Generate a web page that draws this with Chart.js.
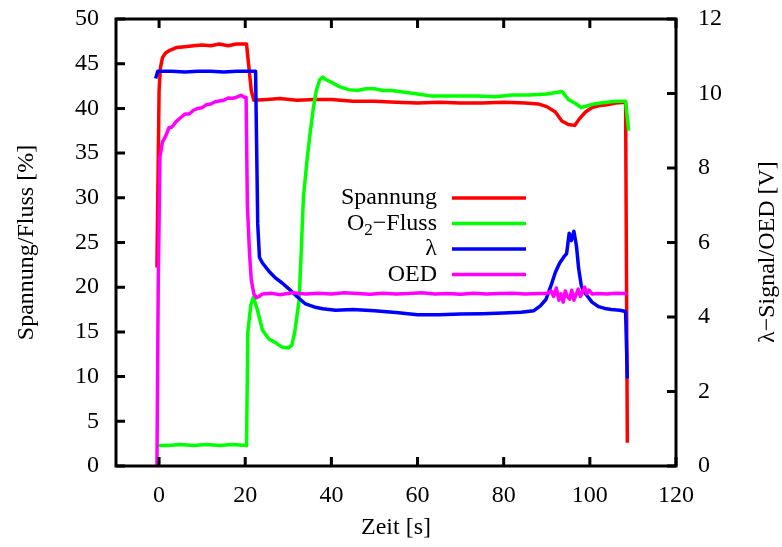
<!DOCTYPE html>
<html>
<head>
<meta charset="utf-8">
<title>Spannung / Fluss</title>
<script src="https://cdn.jsdelivr.net/npm/chart.js@4.4.1/dist/chart.umd.min.js"></script>
<style>
    body { margin: 0; background: #fff; font-family: "Liberation Serif", serif; }
    #wrap { width: 782px; height: 547px; position: relative; }
</style>
</head>
<body>
<div id="wrap"><canvas id="myChart"></canvas></div>
<script>
// tick labels
const xTicks = [0, 20, 40, 60, 80, 100, 120];
const yLeftTicks = [0, 5, 10, 15, 20, 25, 30, 35, 40, 45, 50];
const yRightTicks = [0, 2, 4, 6, 8, 10, 12];

// Spannung [%] (left axis)
const spannungTime = [-0.5, -0.3, 0, 0.3, 0.8, 1.5, 2.5, 4, 6, 8, 10, 12, 14, 16, 18, 20.3, 21.4, 22, 25, 28, 32, 36, 40, 45, 50, 55, 60, 65, 70, 75, 80, 85, 88, 90, 92, 93.5, 95, 96.5, 97.5, 99, 100.5, 102, 104, 106, 108.3, 108.7];
const spannung = [22.2, 30, 42, 44.5, 45.7, 46.2, 46.5, 46.8, 46.9, 47.0, 47.1, 47.0, 47.2, 47.0, 47.2, 47.2, 42, 40.9, 41.0, 41.1, 40.9, 41.0, 41.0, 40.8, 40.8, 40.7, 40.6, 40.7, 40.6, 40.6, 40.7, 40.6, 40.5, 40.2, 39.6, 38.6, 38.2, 38.1, 38.8, 39.6, 40.1, 40.3, 40.4, 40.6, 40.7, 2.6];

// O2-Fluss [%] (left axis)
const flussTime = [-0.3, 2, 5, 8, 11, 14, 17, 20.3, 20.6, 21.3, 21.9, 22.8, 24, 25.5, 27, 28.5, 30, 30.8, 31.5, 32.5, 33, 33.5, 34.3, 35, 35.8, 36.5, 37.3, 38, 38.8, 40.5, 42, 44, 46, 48, 50, 52, 54, 57, 60, 63, 66, 70, 74, 78, 82, 86, 90, 92.5, 93.5, 95, 96.5, 98, 99.5, 101, 102.5, 104, 106, 108.3, 109];
const fluss = [2.3, 2.3, 2.4, 2.3, 2.4, 2.3, 2.4, 2.3, 15, 18, 18.9, 17.5, 15.2, 14.2, 13.8, 13.3, 13.2, 13.5, 15, 18.5, 24, 30, 34, 37, 40, 42, 43.2, 43.5, 43.2, 42.8, 42.4, 42.1, 42.0, 42.2, 42.2, 42.0, 42.0, 41.8, 41.6, 41.4, 41.4, 41.4, 41.4, 41.3, 41.5, 41.5, 41.6, 41.8, 41.9, 41.0, 40.6, 40.1, 40.3, 40.5, 40.6, 40.7, 40.8, 40.8, 37.5];

// lambda signal [V] (right axis)
const lambdaTime = [-0.8, -0.3, 0, 3, 6, 9, 12, 15, 18, 21, 22.4, 22.9, 23.3, 24, 25.5, 27, 28.5, 30, 32, 34, 36, 38, 41, 45, 50, 55, 60, 65, 70, 75, 80, 84, 87, 88.5, 89.8, 91, 92, 93, 94, 94.6, 95.2, 95.7, 96.3, 96.9, 97.4, 98, 98.6, 99.5, 100.5, 102, 103.5, 105, 107, 108.3, 108.7];
const lambda = [10.4, 10.6, 10.6, 10.6, 10.58, 10.6, 10.6, 10.58, 10.6, 10.6, 10.6, 6.5, 5.6, 5.45, 5.23, 5.05, 4.92, 4.77, 4.55, 4.35, 4.27, 4.22, 4.18, 4.2, 4.17, 4.12, 4.06, 4.06, 4.08, 4.09, 4.11, 4.13, 4.17, 4.3, 4.47, 4.85, 5.2, 5.45, 5.62, 5.7, 6.25, 6.05, 6.3, 5.9, 5.3, 4.85, 4.68, 4.55, 4.4, 4.28, 4.23, 4.2, 4.18, 4.15, 2.35];

// OED [V] (right axis)
const oedTime = [-0.5, -0.2, 0.2, 0.8, 1.5, 2.3, 3, 4, 5, 6, 7, 8, 9, 10, 11, 12, 13, 14, 15, 16, 17, 18, 19, 19.8, 20.2, 20.5, 21, 21.4, 22, 22.6, 23.2, 24, 26, 28, 31, 34, 37, 40, 43, 46, 49, 52, 55, 58, 61, 64, 67, 70, 73, 76, 79, 82, 85, 88, 90, 91, 91.6, 92.2, 92.8, 93.3, 93.8, 94.3, 94.8, 95.3, 95.8, 96.3, 96.8, 97.3, 97.8, 98.3, 98.8, 99.3, 99.8, 100.5, 102, 104, 106, 108.7];
const oed = [0, 4.8, 8.3, 8.7, 8.85, 9.08, 9.1, 9.25, 9.35, 9.45, 9.45, 9.55, 9.6, 9.62, 9.7, 9.72, 9.78, 9.8, 9.82, 9.88, 9.87, 9.9, 9.95, 9.9, 9.9, 7.0, 5.7, 5.0, 4.62, 4.52, 4.55, 4.62, 4.64, 4.6, 4.65, 4.62, 4.64, 4.62, 4.65, 4.63, 4.61, 4.64, 4.62, 4.63, 4.65, 4.62, 4.63, 4.61, 4.64, 4.62, 4.63, 4.64, 4.62, 4.63, 4.63, 4.7, 4.55, 4.78, 4.45, 4.62, 4.4, 4.7, 4.55, 4.48, 4.72, 4.45, 4.6, 4.75, 4.55, 4.68, 4.8, 4.62, 4.72, 4.62, 4.63, 4.62, 4.64, 4.63];

const legendItems = [
    { label: 'Spannung', color: '#ff0000' },
    { label: 'O2-Fluss', color: '#00ff00' },
    { label: 'λ', color: '#0000ff' },
    { label: 'OED', color: '#ff00ff' }
];

const FONT = '"Liberation Serif"';

function points(t, v) {
    return t.map((x, i) => ({ x: x, y: v[i] }));
}

// fixed axis sizes, no extra label padding, so the frame sits where gnuplot put it
function fitAxis(size) {
    return s => {
        if (s.isHorizontal()) s.height = size; else s.width = size;
        s.paddingTop = 0;
        s.paddingBottom = 0;
        s.paddingLeft = 0;
        s.paddingRight = 0;
    };
}

// border, inward ticks, axis titles and the legend, gnuplot style
const frame = {
    id: 'frame',
    afterDatasetsDraw(chart) {
        const ctx = chart.ctx;
        const a = chart.chartArea;
        const sx = chart.scales.x, yl = chart.scales.y, yr = chart.scales.y2;
        const tl = 9;
        ctx.save();
        ctx.strokeStyle = '#000';
        ctx.lineWidth = 3;
        ctx.beginPath();
        xTicks.forEach(v => {
            const px = sx.getPixelForValue(v);
            ctx.moveTo(px, a.bottom); ctx.lineTo(px, a.bottom - tl);
            ctx.moveTo(px, a.top); ctx.lineTo(px, a.top + tl);
        });
        yLeftTicks.forEach(v => {
            const py = yl.getPixelForValue(v);
            ctx.moveTo(a.left, py); ctx.lineTo(a.left + tl, py);
        });
        yRightTicks.forEach(v => {
            const py = yr.getPixelForValue(v);
            ctx.moveTo(a.right, py); ctx.lineTo(a.right - tl, py);
        });
        ctx.stroke();
        ctx.strokeRect(a.left, a.top, a.right - a.left, a.bottom - a.top);

        ctx.fillStyle = '#000';
        ctx.font = '24px ' + FONT;
        ctx.textBaseline = 'middle';

        ctx.textAlign = 'center';
        ctx.fillText('Zeit [s]', (a.left + a.right) / 2, 528);

        ctx.save();
        ctx.translate(27, (a.top + a.bottom) / 2);
        ctx.rotate(-Math.PI / 2);
        ctx.fillText('Spannung/Fluss [%]', 0, 0);
        ctx.restore();

        ctx.save();
        ctx.translate(768, 343);
        ctx.rotate(-Math.PI / 2);
        ctx.textAlign = 'left';
        ctx.fillText('λ\u2212Signal/OED [V]', 0, 0);
        ctx.restore();

        // legend
        const textRight = 437, lineX0 = 452, lineX1 = 526;
        const rows = [198, 223.5, 249, 274.5];
        legendItems.forEach((item, i) => {
            const y = rows[i];
            ctx.textAlign = 'right';
            ctx.font = '24px ' + FONT;
            if (item.label === 'O2-Fluss') {
                const rest = '\u2212Fluss';
                ctx.fillText(rest, textRight, y);
                let x = textRight - ctx.measureText(rest).width;
                ctx.font = '17px ' + FONT;
                ctx.fillText('2', x, y + 7);
                x -= ctx.measureText('2').width;
                ctx.font = '24px ' + FONT;
                ctx.fillText('O', x, y);
            } else {
                ctx.fillText(item.label, textRight, y);
            }
            ctx.strokeStyle = item.color;
            ctx.lineWidth = 3.5;
            ctx.beginPath();
            ctx.moveTo(lineX0, y);
            ctx.lineTo(lineX1, y);
            ctx.stroke();
        });
        ctx.restore();
    }
};

function drawChart() {
    const ctx = document.getElementById('myChart').getContext('2d');
    const tickFont = { family: FONT, size: 24 };

    new Chart(ctx, {
        type: 'line',
        data: {
            datasets: [{
                label: 'Spannung',
                data: points(spannungTime, spannung),
                borderColor: '#ff0000',
                borderWidth: 3.5,
                yAxisID: 'y',
                order: 4
            }, {
                label: 'O2-Fluss',
                data: points(flussTime, fluss),
                borderColor: '#00ff00',
                borderWidth: 3.5,
                yAxisID: 'y',
                order: 3
            }, {
                label: 'λ',
                data: points(lambdaTime, lambda),
                borderColor: '#0000ff',
                borderWidth: 3.5,
                yAxisID: 'y2',
                order: 2
            }, {
                label: 'OED',
                data: points(oedTime, oed),
                borderColor: '#ff00ff',
                borderWidth: 3.5,
                yAxisID: 'y2',
                order: 1
            }]
        },
        options: {
            responsive: true,
            maintainAspectRatio: false,
            animation: false,
            parsing: false,
            layout: { padding: { top: 19, left: 0, right: 0, bottom: 0 } },
            elements: {
                line: { tension: 0, fill: false, borderJoinStyle: 'round' },
                point: { radius: 0 }
            },
            plugins: {
                legend: { display: false },
                tooltip: { enabled: false }
            },
            scales: {
                x: {
                    type: 'linear',
                    min: -10,
                    max: 120,
                    grid: { display: false, drawTicks: false },
                    border: { display: false },
                    afterBuildTicks: s => { s.ticks = xTicks.map(v => ({ value: v })); },
                    afterFit: fitAxis(81),
                    ticks: { padding: 15, color: '#000', font: tickFont, maxRotation: 0, autoSkip: false }
                },
                y: {
                    type: 'linear',
                    position: 'left',
                    min: 0,
                    max: 50,
                    grid: { display: false, drawTicks: false },
                    border: { display: false },
                    afterBuildTicks: s => { s.ticks = yLeftTicks.map(v => ({ value: v })); },
                    afterFit: fitAxis(116),
                    ticks: { padding: 17, color: '#000', font: tickFont, autoSkip: false }
                },
                y2: {
                    type: 'linear',
                    position: 'right',
                    min: 0,
                    max: 12,
                    grid: { display: false, drawTicks: false },
                    border: { display: false },
                    afterBuildTicks: s => { s.ticks = yRightTicks.map(v => ({ value: v })); },
                    afterFit: fitAxis(106),
                    ticks: { padding: 22, color: '#000', font: tickFont, autoSkip: false }
                }
            }
        },
        plugins: [frame]
    });
}

document.fonts.load('24px "Liberation Serif"').then(drawChart, drawChart);
</script>
</body>
</html>
